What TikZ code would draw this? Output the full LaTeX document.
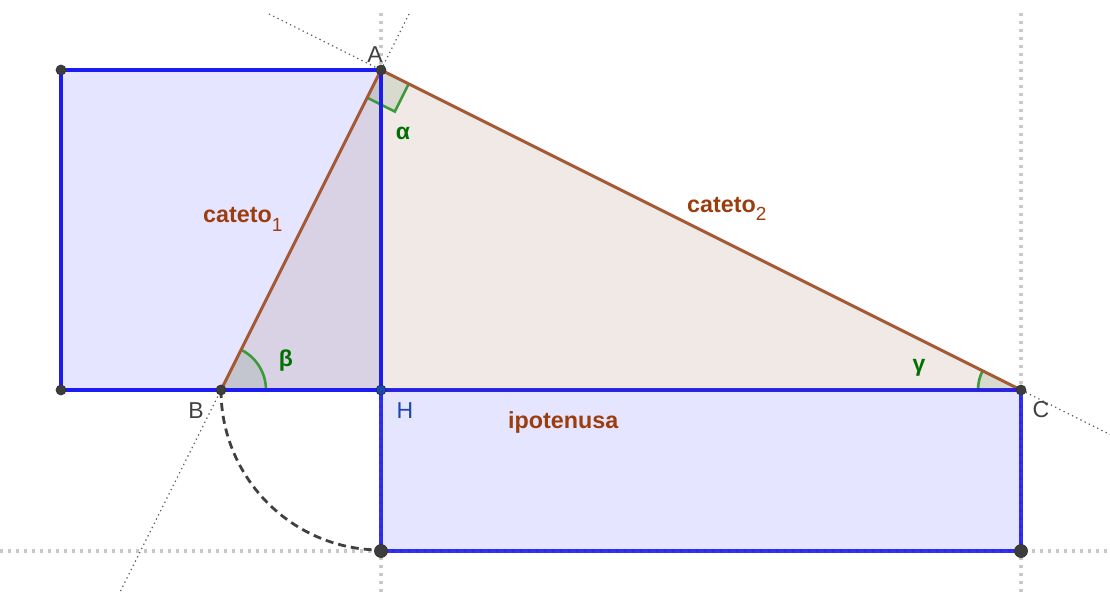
\documentclass[tikz,border=0pt]{standalone}
\usepackage{fontspec}
\setmainfont{Liberation Sans}
\usetikzlibrary{calc}
\definecolor{sqblue}{HTML}{1C1CF0}
\definecolor{tribrown}{HTML}{A35A35}
\definecolor{lblbrown}{HTML}{9C3D0E}
\definecolor{anggreen}{HTML}{3C9A3C}
\definecolor{txtgreen}{HTML}{007000}
\definecolor{ptgray}{HTML}{3D3D3D}
\definecolor{hblue}{HTML}{1F47A8}
\definecolor{guidegray}{HTML}{C8C8C8}
\tikzset{
  guide/.style={guidegray, line width=3.4pt, dash pattern=on 3.4pt off 4.6pt},
  extline/.style={black!62, line width=1.3pt, dash pattern=on 1.3pt off 3.4pt},
  sqfill/.style={fill=blue, fill opacity=0.1},
  trifill/.style={fill=tribrown!80!black, fill opacity=0.12},
  sqedge/.style={sqblue, line width=3.4pt},
  triedge/.style={tribrown, line width=3pt},
  angedge/.style={anggreen, line width=2.6pt},
  angfill/.style={fill=green!35!black, fill opacity=0.1},
  pt/.style={circle, fill=ptgray, draw=black!80, line width=0.7pt, inner sep=0pt, minimum size=10pt},
  bigpt/.style={pt, minimum size=13pt},
  ptlbl/.style={text=black!75, font=\fontsize{23}{27}\selectfont},
  greek/.style={text=txtgreen, font=\fontsize{23}{27}\selectfont\bfseries},
  seglbl/.style={text=lblbrown, font=\fontsize{23.3}{27}\selectfont\bfseries, inner sep=0pt}
}
\begin{document}
\begin{tikzpicture}[x=1pt,y=1pt]
\useasboundingbox (0,0) rectangle (1110,592);
% points
\coordinate (A) at (381,522);
\coordinate (B) at (221,202);
\coordinate (C) at (1021,202);
\coordinate (H) at (381,202);
\coordinate (P) at (381,41);
\coordinate (Q) at (1021,41);
\coordinate (S1) at (61,522);
\coordinate (S2) at (61,202);
% guide endpoints
\coordinate (g1t) at (381,579);
\coordinate (g1b) at (381,0);
\coordinate (g2t) at (1021,579);
\coordinate (g2b) at (1021,0);
\coordinate (g3l) at (0,41);
\coordinate (g3r) at (1110,41);
\coordinate (eAC1) at (269,578);
\coordinate (eAC2) at (1110,157.5);
\coordinate (eAB1) at (409,578);
\coordinate (eAB2) at (120,0);
% light guide lines
\draw[guide] (g1t) -- (g1b);
\draw[guide] (g2t) -- (g2b);
\draw[guide] (g3l) -- (g3r);
% fills
\fill[sqfill] (S1) -- (A) -- (H) -- (S2) -- cycle;
\fill[sqfill] (H) -- (C) -- (Q) -- (P) -- cycle;
\fill[trifill] (A) -- (B) -- (C) -- cycle;
% extension lines
\draw[extline] (eAC1) -- (eAC2);
\draw[extline] (eAB1) -- (eAB2);
% angle markers
\coordinate (rA1) at ($(A)!31pt!(C)$);
\coordinate (rA2) at ($(A)!31pt!(B)$);
\coordinate (rA3) at ($(rA1)+(rA2)-(A)$);
\fill[angfill] (A) -- (rA1) -- (rA3) -- (rA2) -- cycle;
\draw[angedge] (rA1) -- (rA3) -- (rA2);
\fill[angfill] (B) -- ++(0:45) arc[start angle=0, end angle=63.43, radius=45] -- cycle;
\draw[angedge] ($(B)+(0:45)$) arc[start angle=0, end angle=63.43, radius=45];
\fill[angfill] (C) -- ++(153.43:43) arc[start angle=153.43, end angle=180, radius=43] -- cycle;
\draw[angedge] ($(C)+(153.43:43)$) arc[start angle=153.43, end angle=180, radius=43];
% triangle edges
\draw[triedge] (A) -- (B) -- (C) -- cycle;
% square edges
\draw[sqedge] (S1) -- (A) -- (H) -- (S2) -- cycle;
\draw[sqedge, draw opacity=0.9] (H) -- (C) -- (Q) -- (P) -- cycle;
% dashed arc
\draw[black!75, line width=2.8pt, dash pattern=on 8pt off 5pt] (B) arc[start angle=180, end angle=270, radius=160];
% point markers
\node[pt] (nS1) at (S1) {};
\node[pt] (nS2) at (S2) {};
\node[pt] (nA) at (A) {};
\node[pt] (nB) at (B) {};
\node[pt] (nC) at (C) {};
\node[pt, fill=hblue, draw=hblue!60!black] (nH) at (H) {};
\node[bigpt] (nP) at (P) {};
\node[bigpt] (nQ) at (Q) {};
% labels
\node[ptlbl] (lA) at (375,537) {A};
\node[ptlbl] (lB) at (196,181) {B};
\node[ptlbl] (lC) at (1041,182) {C};
\node[ptlbl, text=hblue] (lH) at (405,181) {H};
\node[greek] (la) at (403,459) {α};
\node[greek] (lb) at (286,231) {β};
\node[greek] (lg) at (919,224) {γ};
\node[seglbl, anchor=base west] (c1) at (203,369) {cateto\raisebox{-9pt}{\fontsize{19}{19}\selectfont\mdseries 1}};
\node[seglbl, anchor=base west] (c2) at (687,379) {cateto\raisebox{-8pt}{\fontsize{19}{19}\selectfont\mdseries 2}};
\node[seglbl, anchor=base west] (ip) at (508,164) {ipotenusa};
\end{tikzpicture}
\end{document}
